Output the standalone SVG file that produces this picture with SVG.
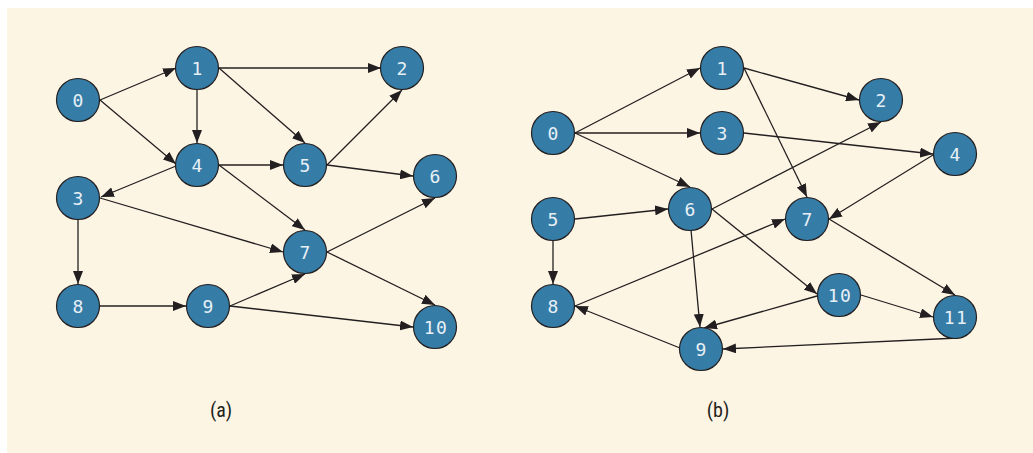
<svg xmlns="http://www.w3.org/2000/svg" width="1033" height="453" viewBox="0 0 1033 453">
<defs>
<style>
.n circle{fill:#357ca7;stroke:#231f20;stroke-width:1.2}
.n text{fill:#e8f0f6;font-family:"DejaVu Sans Mono","Liberation Mono",monospace;font-size:18px;text-anchor:middle;dominant-baseline:central}
.n text.w{letter-spacing:1.5px}
.e line{stroke:#231f20;stroke-width:1.3;marker-end:url(#ah)}
.cap{fill:#231f20;font-family:"Liberation Sans Narrow","Roboto Condensed","Liberation Sans",sans-serif;font-size:20px;text-anchor:middle}
</style>
<marker id="ah" viewBox="0 0 13 10" refX="13" refY="5" markerWidth="13" markerHeight="10" markerUnits="userSpaceOnUse" orient="auto">
<path d="M0,0 L13,5 L0,10 Z" fill="#231f20"/>
</marker>
</defs>
<rect x="7" y="8" width="1026" height="445" fill="#fdf5e4"/>
<g id="connectors-a" class="e">
<line x1="100" y1="100" x2="176" y2="68"/>
<line x1="100" y1="100" x2="176" y2="164"/>
<line x1="219" y1="68" x2="381" y2="68"/>
<line x1="197" y1="90" x2="197" y2="143"/>
<line x1="219" y1="68" x2="305" y2="143"/>
<line x1="176" y1="166" x2="101" y2="197"/>
<line x1="219" y1="165" x2="283" y2="165"/>
<line x1="219" y1="165" x2="305" y2="230"/>
<line x1="327" y1="165" x2="402" y2="90"/>
<line x1="327" y1="165" x2="413" y2="176"/>
<line x1="100" y1="198" x2="283" y2="252"/>
<line x1="78" y1="220" x2="78" y2="284"/>
<line x1="327" y1="252" x2="435" y2="198"/>
<line x1="327" y1="252" x2="435" y2="305"/>
<line x1="100" y1="306" x2="186" y2="306"/>
<line x1="230" y1="306" x2="305" y2="274"/>
<line x1="230" y1="306" x2="413" y2="327"/>
</g>
<g id="connectors-b" class="e">
<line x1="575" y1="133" x2="700" y2="68"/>
<line x1="575" y1="133" x2="700" y2="133"/>
<line x1="575" y1="133" x2="690" y2="187"/>
<line x1="744" y1="68" x2="859" y2="100"/>
<line x1="744" y1="68" x2="807" y2="197"/>
<line x1="744" y1="133" x2="933" y2="154"/>
<line x1="933" y1="155" x2="829" y2="219"/>
<line x1="575" y1="219" x2="668" y2="209"/>
<line x1="553" y1="241" x2="553" y2="284"/>
<line x1="712" y1="209" x2="881" y2="122"/>
<line x1="691" y1="230" x2="700" y2="327"/>
<line x1="712" y1="209" x2="817" y2="294"/>
<line x1="829" y1="219" x2="955" y2="295"/>
<line x1="575" y1="306" x2="785" y2="219"/>
<line x1="817" y1="296" x2="704" y2="328"/>
<line x1="861" y1="295" x2="933" y2="317"/>
<line x1="958" y1="338" x2="723" y2="349"/>
<line x1="680" y1="348" x2="575" y2="306"/>
</g>
<g id="a0" class="n"><circle cx="78" cy="100" r="21.5"/><text x="78" y="100">0</text></g>
<g id="a1" class="n"><circle cx="197" cy="68" r="21.5"/><text x="197" y="68">1</text></g>
<g id="a2" class="n"><circle cx="402" cy="68" r="21.5"/><text x="402" y="68">2</text></g>
<g id="a3" class="n"><circle cx="78" cy="198" r="21.5"/><text x="78" y="198">3</text></g>
<g id="a4" class="n"><circle cx="197" cy="165" r="21.5"/><text x="197" y="165">4</text></g>
<g id="a5" class="n"><circle cx="305" cy="165" r="21.5"/><text x="305" y="165">5</text></g>
<g id="a6" class="n"><circle cx="435" cy="176" r="21.5"/><text x="435" y="176">6</text></g>
<g id="a7" class="n"><circle cx="305" cy="252" r="21.5"/><text x="305" y="252">7</text></g>
<g id="a8" class="n"><circle cx="78" cy="306" r="21.5"/><text x="78" y="306">8</text></g>
<g id="a9" class="n"><circle cx="208" cy="306" r="21.5"/><text x="208" y="306">9</text></g>
<g id="a10" class="n"><circle cx="435" cy="327" r="21.5"/><text class="w" x="436" y="327">10</text></g>
<g id="b0" class="n"><circle cx="553" cy="133" r="21.5"/><text x="553" y="133">0</text></g>
<g id="b1" class="n"><circle cx="722" cy="68" r="21.5"/><text x="722" y="68">1</text></g>
<g id="b2" class="n"><circle cx="881" cy="100" r="21.5"/><text x="881" y="100">2</text></g>
<g id="b3" class="n"><circle cx="722" cy="133" r="21.5"/><text x="722" y="133">3</text></g>
<g id="b4" class="n"><circle cx="955" cy="154" r="21.5"/><text x="955" y="154">4</text></g>
<g id="b5" class="n"><circle cx="553" cy="219" r="21.5"/><text x="553" y="219">5</text></g>
<g id="b6" class="n"><circle cx="690" cy="209" r="21.5"/><text x="690" y="209">6</text></g>
<g id="b7" class="n"><circle cx="807" cy="219" r="21.5"/><text x="807" y="219">7</text></g>
<g id="b8" class="n"><circle cx="553" cy="306" r="21.5"/><text x="553" y="306">8</text></g>
<g id="b9" class="n"><circle cx="701" cy="349" r="21.5"/><text x="701" y="349">9</text></g>
<g id="b10" class="n"><circle cx="839" cy="295" r="21.5"/><text class="w" x="840" y="295">10</text></g>
<g id="b11" class="n"><circle cx="955" cy="317" r="21.5"/><text class="w" x="956" y="317">11</text></g>
<text class="cap" x="221" y="417">(a)</text>
<text class="cap" x="718" y="417">(b)</text>
</svg>
